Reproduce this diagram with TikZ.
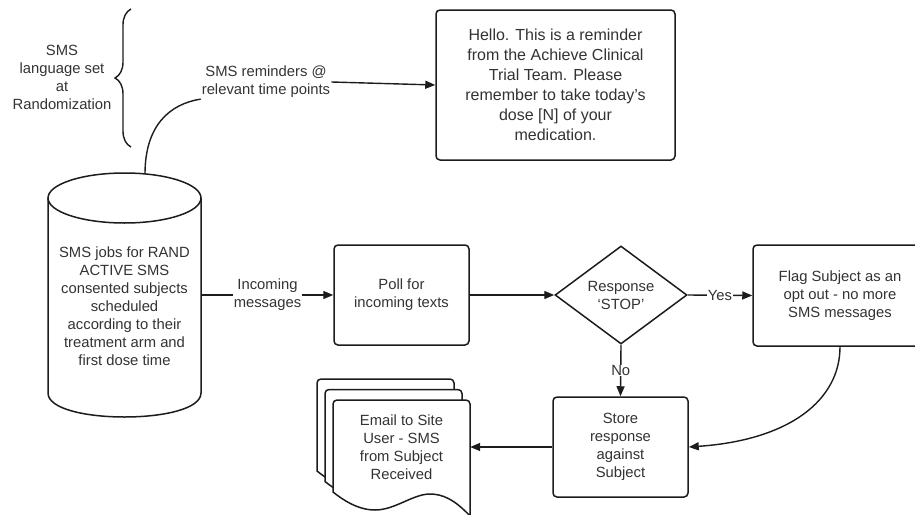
\documentclass[tikz,border=0pt]{standalone}
\usepackage{fontspec}
\setmainfont{Liberation Sans}
\usetikzlibrary{arrows.meta,shapes.geometric,decorations.pathreplacing}
\definecolor{ln}{HTML}{1C1C1C}
\definecolor{txt}{HTML}{333333}
\begin{document}
\begin{tikzpicture}[x=1pt,y=-1pt,
  every node/.style={font=\fontsize{14.8}{18}\selectfont, text=txt, align=center},
  box/.style={draw=ln, line width=1.5pt, rounded corners=4pt, fill=white, inner sep=0pt},
  plain/.style={draw=none, inner sep=0pt},
  arr/.style={draw=ln, line width=1.4pt, -{Triangle[length=10pt,width=8pt]}},
  wire/.style={draw=ln, line width=1.4pt},
  lbl/.style={fill=white, inner sep=0.5pt},
  docpage/.pic={
    \draw[wire, line width=1.5pt, fill=white]
      (0,92) [rounded corners=4pt] -- (0,0) -- (137,0) [sharp corners] -- (137,116)
      .. controls (122,100) and (110,94) .. (97,94)
      .. controls (80,94) and (62,110) .. (42,110)
      .. controls (25,110) and (10,100) .. (0,92) -- cycle;
  }
]
\useasboundingbox (0,0) rectangle (915,514);
\clip (0,0) rectangle (915,514);

% database cylinder
\draw[wire, line width=1.5pt, fill=white] (48,198) -- (48,393)
  .. controls (48,425) and (201,425) .. (201,393) -- (201,198);
\draw[wire, line width=1.5pt, fill=white] (124.5,198) ellipse [x radius=76.5, y radius=25];
\node[plain, minimum width=153pt, minimum height=244pt] (db) at (124.5,295) {};
\node[plain] (dbtext) at (124.5,306) {SMS jobs for RAND\\ACTIVE SMS\\consented subjects\\scheduled\\according to their\\treatment arm and\\first dose time};
\coordinate (dbtop) at (145,174);

% language note with brace
\node[plain] (lang) at (62,77) {SMS\\language set\\at\\Randomization};
\draw[wire, decorate, decoration={brace, amplitude=16pt}] (131,147) -- (131,9);

% reminder message
\node[box, minimum width=239pt, minimum height=150pt,
      font=\fontsize{16}{20}\selectfont] (hello) at (555.5,85)
  {Hello. This is a reminder\\from the Achieve Clinical\\Trial Team. Please\\remember to take today's\\dose [N] of your\\medication.};
\node[plain, inner sep=1pt] (remlabel) at (266,82) {SMS reminders @\\relevant time points};

% main flow
\node[plain, inner sep=1pt] (inlbl) at (267.5,295) {Incoming\\messages};
\node[box, minimum width=135pt, minimum height=100pt] (poll) at (401.5,295) {Poll for\\incoming texts};
\node[draw=ln, line width=1.5pt, diamond, fill=white, inner sep=0pt,
      minimum width=132pt, minimum height=98pt] (stop) at (621,295) {Response\\`STOP'};
\node[box, minimum width=174pt, minimum height=101pt] (flag) at (840,295.5)
  {Flag Subject as an\\opt out - no more\\SMS messages};
\node[box, minimum width=135pt, minimum height=100pt] (store) at (620.5,447)
  {Store\\response\\against\\Subject};

% stacked email documents
\pic at (317,379) {docpage};
\pic at (325,389.5) {docpage};
\pic at (333,400) {docpage};
\node[plain, minimum width=137pt, minimum height=92pt] (email) at (401.5,447)
  {Email to Site\\User - SMS\\from Subject\\Received};

% connectors
\draw[wire] (dbtop) .. controls (145,125) and (170,104) .. (remlabel.south west);
\draw[arr] (remlabel.east) -- (hello.west);
\draw[wire] (db.east) -- (inlbl.west);
\draw[arr] (inlbl.east) -- (poll.west);
\draw[arr] (poll.east) -- (stop.west);
\draw[arr] (stop.east) -- node[lbl] {Yes} (flag.west);
\draw[arr] (stop.south) -- node[lbl] {No} (store.north);
\draw[arr] (flag.south) .. controls (840,400) and (790,440) .. (store.east);
\draw[arr] (store.west) -- (email.east);
\end{tikzpicture}
\end{document}
